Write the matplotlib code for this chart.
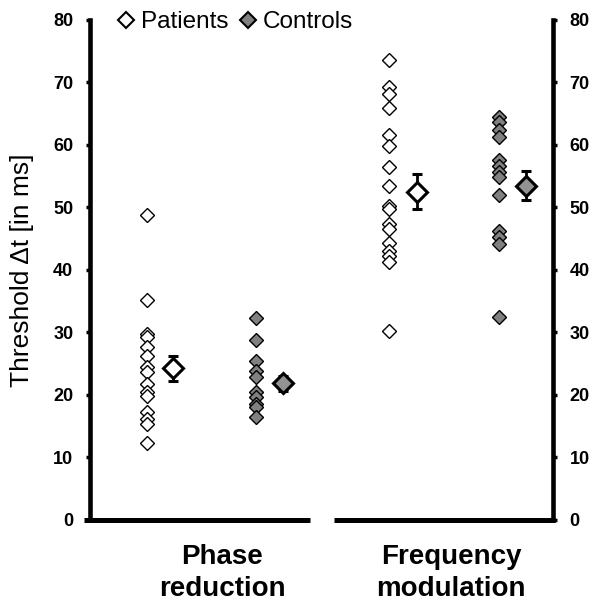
import matplotlib.pyplot as plt
from matplotlib.lines import Line2D

plt.rcParams["font.family"] = ["Liberation Sans", "DejaVu Sans"]

conditions = ["Phase\nreduction", "Frequency\nmodulation"]
groups = ["Patients", "Controls"]

phase_patients = [48.8, 35.2, 29.7, 29.2, 27.6, 26.3, 24.4, 23.6, 21.8,
                  20.4, 19.8, 17.3, 16.2, 15.4, 12.3]
phase_controls = [32.3, 28.8, 25.5, 23.9, 22.8, 20.4, 19.6, 18.6, 18.0, 16.4]
fm_patients = [73.6, 69.3, 68.1, 65.9, 61.6, 59.9, 56.4, 53.4, 50.2, 49.7,
               47.3, 46.5, 44.3, 43.0, 42.2, 41.3, 30.3]
fm_controls = [64.4, 63.7, 62.4, 61.2, 57.6, 56.6, 55.7, 54.8, 52.0, 46.2,
               45.3, 44.2, 32.5]

means = [[24.3, 21.9], [52.5, 53.5]]
errors = [[2.0, 1.2], [2.8, 2.35]]

# layout: x positions of the individual points and the means
point_x = [[1.22, 3.58], [6.46, 8.84]]
mean_x = [[1.80, 4.16], [7.06, 9.42]]
label_x = [2.85, 7.8]

values = [[phase_patients, phase_controls], [fm_patients, fm_controls]]
face = ["white", "#808080"]
mean_face = ["white", "#939393"]

fig = plt.figure(figsize=(5.99, 6.04), dpi=100)
ax = fig.add_axes([0.1503, 0.1391, 0.9232 - 0.1503, 0.9669 - 0.1391])

for c in range(2):
    for g in range(2):
        ys = values[c][g]
        ax.plot([point_x[c][g]] * len(ys), ys, ls="none", marker="D",
                markersize=6.8, markerfacecolor=face[g],
                markeredgecolor="black", markeredgewidth=1.0, zorder=3)
        ax.errorbar(mean_x[c][g], means[c][g], yerr=errors[c][g],
                    fmt="D", markersize=10.5, markerfacecolor=mean_face[g],
                    markeredgecolor="black", markeredgewidth=2.2,
                    ecolor="black", elinewidth=2.0, capsize=3.5,
                    capthick=2.0, zorder=4)

ax.set_xlim(0, 10)
ax.set_ylim(0, 80)
ax.set_yticks(range(0, 81, 10))
ax.yaxis.set_ticks_position("both")
ax.tick_params(axis="y", direction="out", length=3, width=2.5,
               labelsize=13, labelright=True, pad=9)
for lab in ax.get_yticklabels():
    lab.set_fontweight("bold")

ax.set_xticks(label_x)
ax.set_xticklabels(conditions, fontsize=20, fontweight="bold",
                   linespacing=1.27)
ax.tick_params(axis="x", length=0, pad=17.5)

ax.spines["top"].set_visible(False)
ax.spines["bottom"].set_visible(False)
ax.spines["left"].set_linewidth(3.3)
ax.spines["right"].set_linewidth(3.3)
ax.axhline(0, xmin=-0.013, xmax=0.475, color="black", lw=3.6,
           clip_on=False, solid_capstyle="butt")
ax.axhline(0, xmin=0.527, xmax=1.005, color="black", lw=3.6,
           clip_on=False, solid_capstyle="butt")

ax.set_ylabel("Threshold \u0394t [in ms]", fontsize=19)
ax.yaxis.set_label_coords(-0.121, 0.5)

handles = [Line2D([], [], ls="none", marker="D", markersize=8.5,
                  markerfacecolor=face[g], markeredgecolor="black",
                  markeredgewidth=1.5) for g in range(2)]
ax.legend(handles, groups, loc="center left", bbox_to_anchor=(0.057, 0.995),
          ncol=2, frameon=False, fontsize=17.5, handlelength=0.8,
          handletextpad=0.2, columnspacing=0.42, borderpad=0,
          borderaxespad=0)

fig.savefig("out.png", dpi=100)
